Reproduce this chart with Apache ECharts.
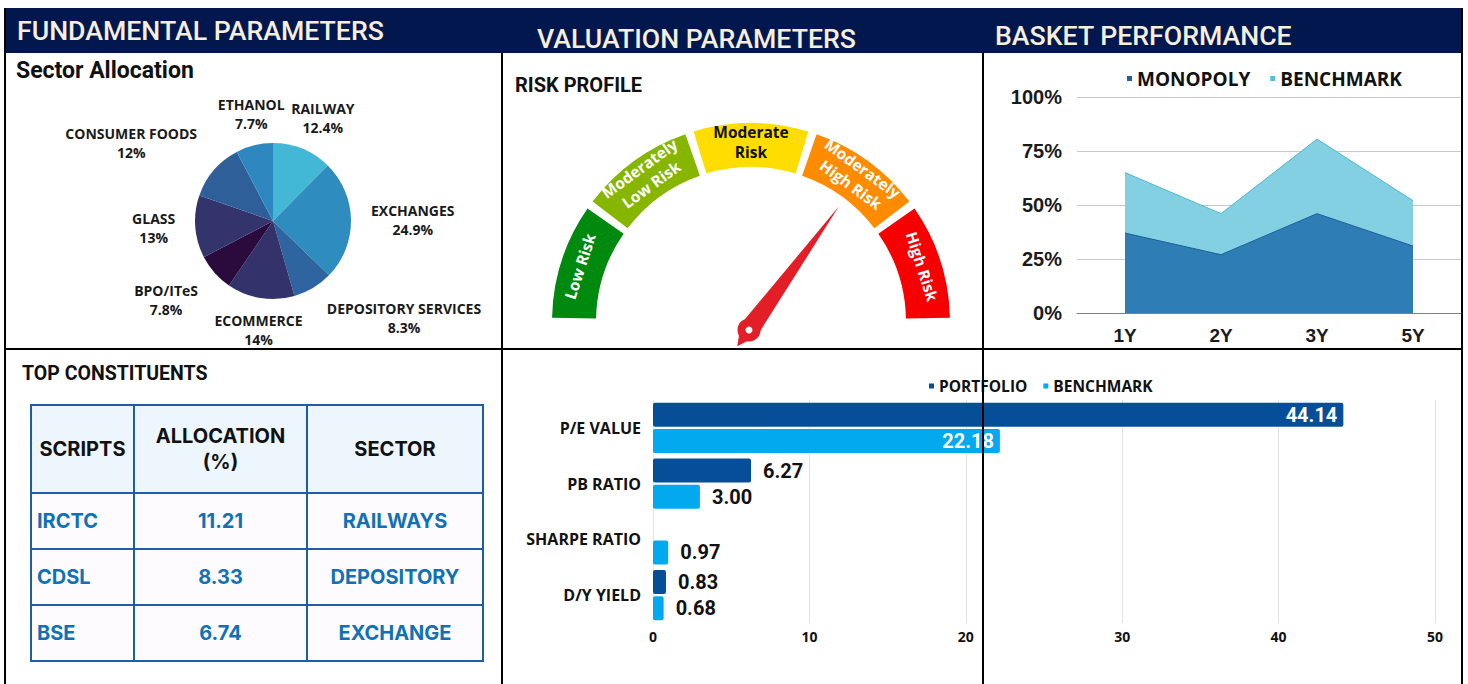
<!DOCTYPE html>
<html>
<head>
<meta charset="utf-8">
<script src="https://cdn.jsdelivr.net/npm/echarts@6/dist/echarts.min.js"></script>
<style>
  html, body { margin: 0; padding: 0; background: #fff; }
  #page { position: relative; width: 1468px; height: 684px; overflow: hidden; }
  .band { position: absolute; left: 5px; top: 8px; width: 1457px; height: 45px; background: #03174f; }
  .head { position: absolute; color: #f7efdd; font-family: Roboto, sans-serif; font-weight: 500;
          font-size: 26.7px; line-height: 26px; white-space: nowrap; }
  .rule { position: absolute; background: #000; z-index: 10; }
  .chart { position: absolute; }
  #tableTitle { position: absolute; left: 22px; top: 362px; font-family: Roboto, sans-serif; font-weight: 700;
                font-size: 19.5px; line-height: 24px; color: #111; }
  #constituents { position: absolute; left: 30px; top: 404px; border-collapse: collapse;
                  font-family: Inter, sans-serif; font-weight: 700; font-size: 20px; }
  #constituents td, #constituents th { border: 2px solid #1c5ea9; padding: 0; text-align: center; }
  #constituents th { background: #eef6fd; color: #111; height: 86px; font-weight: 700; line-height: 26px; }
  #constituents td { background: #fdfbfd; color: #1271b5; height: 54px; }
  #constituents td.first { text-align: left; padding-left: 5px; }
</style>
</head>
<body>
<div id="page">
  <div class="band"></div>
  <div class="head" style="left:17px; top:18px;">FUNDAMENTAL PARAMETERS</div>
  <div class="head" style="left:537px; top:26px;">VALUATION PARAMETERS</div>
  <div class="head" style="left:995px; top:23px;">BASKET PERFORMANCE</div>

  <div id="pie" class="chart" style="left:6px; top:54px; width:496px; height:295px;"></div>
  <div id="gauge" class="chart" style="left:503px; top:54px; width:480px; height:295px;"></div>
  <div id="area" class="chart" style="left:984px; top:54px; width:478px; height:295px;"></div>
  <div id="bar" class="chart" style="left:503px; top:350px; width:965px; height:334px;"></div>

  <div id="tableTitle">TOP CONSTITUENTS</div>
  <table id="constituents"></table>

  <div class="rule" style="left:4px; top:8px; width:1.5px; height:676px;"></div>
  <div class="rule" style="left:501px; top:53px; width:1.5px; height:631px;"></div>
  <div class="rule" style="left:982px; top:53px; width:1.5px; height:631px;"></div>
  <div class="rule" style="left:1461px; top:8px; width:1.5px; height:676px;"></div>
  <div class="rule" style="left:4px; top:348px; width:1458px; height:1.5px;"></div>
</div>
<script>
// sector allocation
const sectorNames = ['RAILWAY', 'EXCHANGES', 'DEPOSITORY SERVICES', 'ECOMMERCE', 'BPO/ITeS', 'GLASS', 'CONSUMER FOODS', 'ETHANOL'];
const sectorShares = [12.4, 24.9, 8.3, 14, 7.8, 13, 12, 7.7];
const sectorColors = ['#43b8d6', '#2e8cbf', '#2e64a0', '#33326b', '#2b0b3d', '#34346d', '#2e5f99', '#2e88bf'];

// risk profile
const riskBands = ['Low Risk', 'Moderately\nLow Risk', 'Moderate\nRisk', 'Moderately\nHigh Risk', 'High Risk'];
const riskColors = ['#00890f', '#86b600', '#ffdd00', '#ff8c00', '#f70000'];
const riskTextColors = ['#fff', '#fff', '#111', '#fff', '#fff'];
const riskLevel = 70;

// basket performance
const periods = ['1Y', '2Y', '3Y', '5Y'];
const monopolyReturns = [37, 27, 46, 31];
const benchmarkReturns = [65, 46, 80.5, 52];

// valuation parameters
const metrics = ['P/E VALUE', 'PB RATIO', 'SHARPE RATIO', 'D/Y YIELD'];
const portfolioValues = [44.14, 6.27, null, 0.83];
const benchmarkValues = [22.18, 3.00, 0.97, 0.68];

// top constituents
const scripts = ['IRCTC', 'CDSL', 'BSE'];
const allocations = ['11.21', '8.33', '6.74'];
const sectors = ['RAILWAYS', 'DEPOSITORY', 'EXCHANGE'];

// table
const table = document.getElementById('constituents');
let html = '<tr><th style="width:101px">SCRIPTS</th><th style="width:171px">ALLOCATION<br>(%)</th><th style="width:174px">SECTOR</th></tr>';
scripts.forEach((s, i) => {
  html += '<tr><td class="first">' + s + '</td><td>' + allocations[i] + '</td><td>' + sectors[i] + '</td></tr>';
});
table.innerHTML = html;

// pie
const pieChart = echarts.init(document.getElementById('pie'), null, { renderer: 'svg' });
const pieCenter = [267, 167];
const pieRadius = 78;
const total = sectorShares.reduce((a, b) => a + b, 0);
const midAngles = [];
sectorShares.reduce((acc, v) => { midAngles.push((acc + v / 2) / total * Math.PI * 2); return acc + v; }, 0);
// 0 near the axis, 1 once the direction leans clearly to one side
const soft = t => Math.sign(t) * Math.min(1, Math.max(0, (Math.abs(t) - 0.3) / 0.2));

pieChart.setOption({
  animation: false,
  title: {
    text: 'Sector Allocation', left: 10, top: 5, padding: 0,
    textStyle: { fontFamily: 'Roboto', fontWeight: 'bold', fontSize: 23, color: '#111' }
  },
  color: sectorColors,
  series: [{
    type: 'pie',
    center: pieCenter,
    radius: pieRadius,
    startAngle: 90,
    avoidLabelOverlap: false,
    data: sectorNames.map((n, i) => ({ name: n, value: sectorShares[i] })),
    label: {
      position: 'outside',
      formatter: p => p.name + '\n' + p.value + '%',
      fontFamily: 'Open Sans', fontWeight: 'bold', fontSize: 14, lineHeight: 19, color: '#1a1a1a'
    },
    labelLine: { show: false },
    // excel style outside labels: the label box corner sits just off the slice's mid point
    labelLayout: function (p) {
      const a = midAngles[p.dataIndex];
      const dx = Math.sin(a), dy = -Math.cos(a);
      const r = p.labelRect;
      const d = pieRadius + 13;
      return {
        x: pieCenter[0] + dx * d + soft(dx) * (r.width / 2 + 7),
        y: pieCenter[1] + dy * d + soft(dy) * r.height / 2,
        align: 'center', verticalAlign: 'middle'
      };
    }
  }]
});

// gauge
const gaugeChart = echarts.init(document.getElementById('gauge'), null, { renderer: 'svg' });
gaugeChart.setOption({
  animation: false,
  title: {
    text: 'RISK PROFILE', left: 12, top: 21, padding: 0,
    textStyle: { fontFamily: 'Roboto', fontWeight: 'bold', fontSize: 20, color: '#111' }
  },
  series: [
    {
      type: 'pie',
      center: [248, 268],
      radius: [155, 199],
      startAngle: 180,
      padAngle: 2.5,
      silent: true,
      data: riskBands.map((b, i) => ({
        name: b, value: 1,
        itemStyle: { color: riskColors[i] },
        label: { color: riskTextColors[i] }
      })).concat([{ name: '', value: riskBands.length, itemStyle: { color: 'transparent' }, label: { show: false } }]),
      label: {
        position: 'inside', rotate: 'tangential', formatter: '{b}',
        fontFamily: 'Open Sans', fontWeight: 'bold', fontSize: 15.5, lineHeight: 20
      },
      labelLine: { show: false }
    },
    {
      type: 'gauge',
      center: [246, 276],
      radius: 153,
      startAngle: 180,
      endAngle: 0,
      min: 0,
      max: 100,
      axisLine: { show: false },
      splitLine: { show: false },
      axisTick: { show: false },
      axisLabel: { show: false },
      title: { show: false },
      detail: { show: false },
      pointer: { length: '100%', width: 10, itemStyle: { color: '#e31e26' } },
      anchor: { show: true, showAbove: true, size: 15, itemStyle: { color: '#fff', borderColor: '#e31e26', borderWidth: 8 } },
      data: [{ value: riskLevel }]
    }
  ]
});

// area
const areaChart = echarts.init(document.getElementById('area'), null, { renderer: 'svg' });
areaChart.setOption({
  animation: false,
  legend: {
    data: ['MONOPOLY', 'BENCHMARK'], left: 138, top: 10, icon: 'rect', itemWidth: 5, itemHeight: 5, itemGap: 20,
    textStyle: { fontFamily: 'Open Sans', fontWeight: 'bold', fontSize: 19, color: '#111' }
  },
  grid: { left: 93, right: 1, top: 43, bottom: 36 },
  xAxis: {
    type: 'category', data: periods, boundaryGap: true,
    axisTick: { show: false },
    axisLine: { lineStyle: { color: '#808080', width: 1 } },
    axisLabel: { fontFamily: 'Liberation Sans', fontWeight: 'bold', fontSize: 19, color: '#1a1a1a', margin: 13 }
  },
  yAxis: {
    type: 'value', min: 0, max: 100, interval: 25,
    axisLabel: { formatter: '{value}%', fontFamily: 'Liberation Sans', fontWeight: 'bold', fontSize: 20, color: '#1a1a1a', margin: 15 },
    splitLine: { lineStyle: { color: '#c9c9c9' } }
  },
  series: [
    {
      name: 'MONOPOLY', type: 'line', data: monopolyReturns, z: 3, symbol: 'none',
      lineStyle: { color: '#1d5f9c', width: 1 }, areaStyle: { color: '#2f7db5', opacity: 1 },
      itemStyle: { color: '#1f5fa6' }
    },
    {
      name: 'BENCHMARK', type: 'line', data: benchmarkReturns, z: 2, symbol: 'none',
      lineStyle: { color: '#4db6d6', width: 1 }, areaStyle: { color: '#84d0e3', opacity: 1 },
      itemStyle: { color: '#4ec1e1' }
    }
  ]
});

// bar
const barChart = echarts.init(document.getElementById('bar'), null, { renderer: 'svg' });
const valueFont = { fontFamily: 'Roboto', fontWeight: 'bold', fontSize: 20 };
const insideLabel = Object.assign({ show: true, position: 'insideRight', color: '#fff', distance: 6 }, valueFont);
const outsideLabel = Object.assign({ show: true, position: 'right', color: '#111', distance: 12 }, valueFont);
const toItems = arr => arr.map(v => ({ value: v, label: v > 20 ? insideLabel : outsideLabel }));
barChart.setOption({
  animation: false,
  legend: {
    data: ['PORTFOLIO', 'BENCHMARK'], left: 421, top: 23, icon: 'rect', itemWidth: 5, itemHeight: 5, itemGap: 16,
    textStyle: { fontFamily: 'Open Sans', fontWeight: 'bold', fontSize: 15.5, color: '#111' }
  },
  grid: { left: 150, right: 33, top: 50, bottom: 61 },
  xAxis: {
    type: 'value', min: 0, max: 50, interval: 10,
    axisLine: { show: false }, axisTick: { show: false },
    axisLabel: { fontFamily: 'Open Sans', fontWeight: 'bold', fontSize: 14, color: '#111', margin: 6 },
    splitLine: { lineStyle: { color: '#e2e2e2' } }
  },
  yAxis: {
    type: 'category', inverse: true, data: metrics,
    axisLine: { show: false }, axisTick: { show: false },
    axisLabel: { fontFamily: 'Open Sans', fontWeight: 'bold', fontSize: 16, color: '#111', margin: 12 }
  },
  series: [
    {
      name: 'PORTFOLIO', type: 'bar', data: toItems(portfolioValues), barGap: '9%', barCategoryGap: '10%',
      itemStyle: { color: '#064f98', borderRadius: 2 },
      label: { formatter: p => p.value.toFixed(2) }
    },
    {
      name: 'BENCHMARK', type: 'bar', data: toItems(benchmarkValues),
      itemStyle: { color: '#03a9ef', borderRadius: 2 },
      label: { formatter: p => p.value.toFixed(2) }
    }
  ]
});
</script>
</body>
</html>
